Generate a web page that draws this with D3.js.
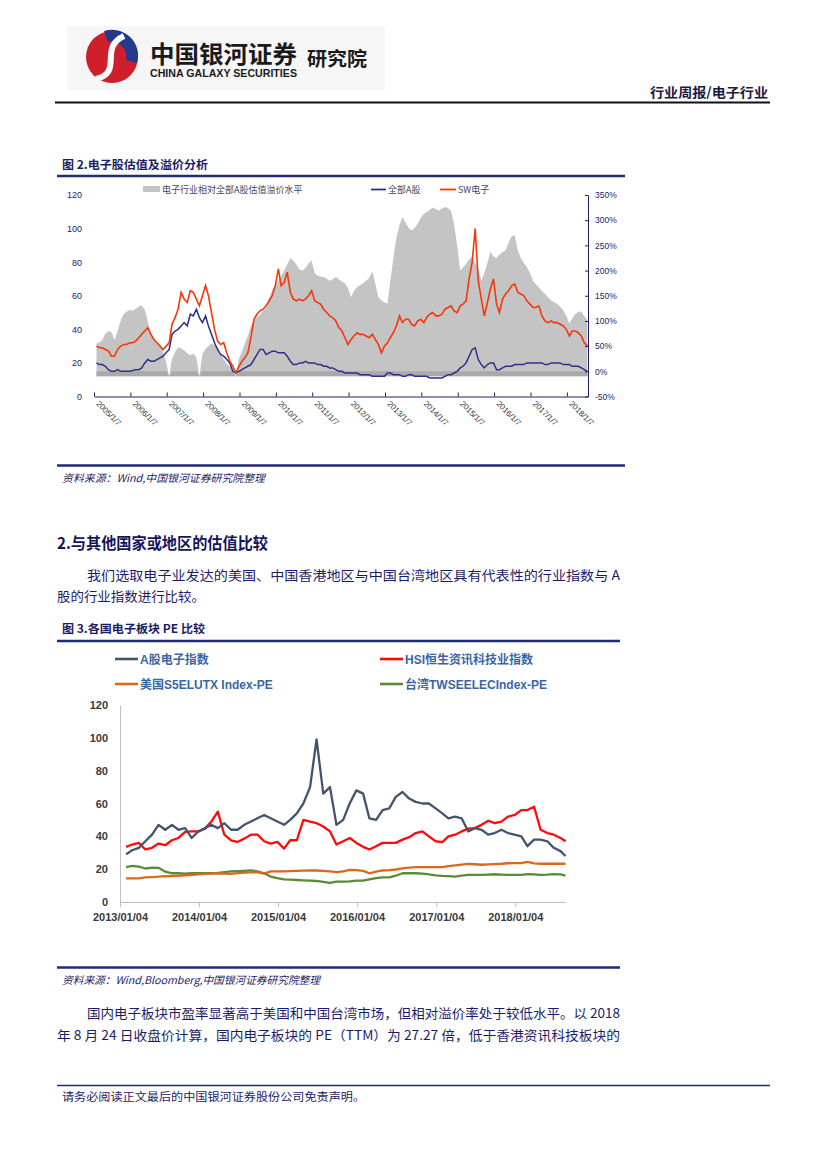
<!DOCTYPE html>
<html><head><meta charset="utf-8">
<script src="https://cdn.jsdelivr.net/npm/d3@7/dist/d3.min.js"></script>
<style>body{margin:0;background:#fff}svg{display:block}</style>
</head><body>
<svg id="page" width="827" height="1169"></svg>
<script>
// ---------- Figure 2 data (monthly, 2005/1 – 2018/8) ----------
const swValues = [
 30,29,29,28,27,24,24,28,30,31,31,32,
 32,33,35,37,39,41,37,34,32,30,28,30,
 32,43,47,52,62,58,56,63,62,58,54,60,
 66,60,50,40,33,31,32,26,21,18,14,18,
 21,23,26,35,46,49,51,52,54,57,60,66,
 76,66,68,74,62,58,57,58,57,58,60,63,
 57,56,55,52,50,48,47,45,41,39,35,31,
 34,36,38,37,37,36,35,37,34,31,26,30,
 32,35,38,42,48,44,46,46,43,42,45,46,
 44,47,49,50,48,48,49,52,53,54,51,50,
 54,55,57,70,80,100,69,58,48,56,64,70,
 55,50,58,61,63,66,67,62,61,60,57,55,
 53,53,54,48,45,44,45,44,44,43,42,40,
 36,39,39,38,36,32,30,28];
const allAValues = [
 20,19,19,18,16,15,15,16,15,15,15,15,
 15.5,16,16,17,20,22,21,21,22,23,24,26,
 28,37,39,40,42,44,42,49,48,52,47,44,
 48,42,37,32,28,25,24,22,20,15,14,15,
 16,17,18,19,22,25,28,28,25,26,27,27,
 26,26,26,24,21,19,19,20,20,21,20,20,
 20,19,19,18,18,17,17,16,15,15,14,14,
 14,14,14,13,13,13,13,12,12,12,12,12,
 14,14,13,13,13,12,12,13,13,12,12,12,
 12,12,11,11,11,11,11,12,13,13,14,15,
 17,18,20,24,28,29,22,19,17,19,20,20,
 16,16,17,18,18,18,19,19,19,19,20,20,
 20,20,20,20,19,19,20,20,20,20,19,19,
 19,18,18,18,17,16,15,14];
const premiumValues = [
 55,57,62,75,80,78,62,80,100,114,118,122,
 120,124,128,131,122,100,72,62,55,50,40,18,
 -10,25,38,48,46,42,36,32,35,28,-10,35,
 45,50,55,52,48,35,24,15,9,2,-10,25,
 40,55,70,90,100,108,112,121,125,145,161,172,
 180,190,200,212,225,220,212,202,200,205,214,220,
 195,190,188,187,184,180,183,187,183,178,175,165,
 147,160,167,171,175,180,185,198,175,147,141,137,
 134,180,225,265,290,306,295,285,280,285,293,305,
 313,316,320,325,322,319,323,326,324,318,293,250,
 200,206,213,222,227,215,205,180,195,215,238,228,
 225,232,237,240,255,268,270,240,225,215,207,195,
 180,173,167,160,154,147,141,137,134,128,121,110,
 95,105,114,118,118,110,101,95];
const c1Dates = d3.timeMonth.range(new Date(2005,0,7), new Date(2018,7,8));
const c1TickLabels = ["2005/1/7","2006/1/7","2007/1/7","2008/1/7","2009/1/7","2010/1/7","2011/1/7",
  "2012/1/7","2013/1/7","2014/1/7","2015/1/7","2016/1/7","2017/1/7","2018/1/7"];
const c1LeftTicks = [0,20,40,60,80,100,120];
const c1RightTicks = [-50,0,50,100,150,200,250,300,350];
const c1Legend = ["电子行业相对全部A股估值溢价水平","全部A股","SW电子"];

// ---------- Figure 3 data (monthly, 2013/01/04 – 2018/08/24) ----------
const aShareValues = [
 29,31.5,33,37,41,47,44,47,44,45,39,43,
 45,47,45,48,44,44,47,49,51,53,51,49,
 47,50,54,60,70,99,66,70,47,50,60,68,
 66,51,50,56,57,64,67,63,61,60,60,57,
 54,51,52,51,43,45,44,41,42,44,42,41,
 40,34,38,38,37,33,31,28,27];
const hsiValues = [
 33.6,35,36,32,33,35.6,34.6,37.6,39,42.7,43,43,
 44.7,48.8,55,41,37.6,36.6,38.6,41,41,37,35.6,36.6,
 32.5,37.6,37.6,50,49,48,46,43,35,37,39,36,
 33.6,32,34,36,36,36,38,39.5,42,43,40,37,
 36.5,40,41,43,44.7,45,47,49.5,48,49,52,53,
 56,56,58,44,42,41,39,37,36.6];
const usValues = [
 14.4,14.4,14.4,15,15.2,15.4,15.7,15.8,16,16.3,16.6,16.8,
 17.1,17.3,17.5,17.3,17.1,17.6,17.9,18.1,18,17.3,18.6,18.6,
 18.6,18.8,19,19.1,19.2,19.2,19,18.6,18.2,18.6,19.6,19.4,
 19,17.5,18.5,19.2,19.4,19.8,20.5,21,21.2,21.2,21.2,21.2,
 21.2,21.8,22.3,22.8,23.2,23,22.7,22.9,23.1,23.3,23.6,23.7,
 23.7,24.5,23.5,23.3,23.4,23.3,23.3,23.3,23.4];
const twValues = [
 21.2,22,21.5,20.4,21,20.8,18.5,17.5,17.5,17.3,17.5,17.5,
 17.5,17.6,17.8,18.2,18.6,18.8,19,19.2,18.6,17.5,15.5,14.5,
 13.8,13.6,13.4,13.2,13,12.8,12.2,11.6,12.4,12.4,12.6,13,
 13,13.8,14.5,15,15,16,17.5,17.6,17.5,17.3,16.8,16.2,
 15.9,15.8,15.5,16,16.5,16.5,16.5,16.7,16.9,16.7,16.5,16.5,
 16.5,17,16.8,16.5,16.7,17,16.8,16,15.9];
const c2Dates = d3.timeMonth.range(new Date(2013,0,4), new Date(2018,7,5)).concat([new Date(2018,7,24)]);
const c2TickLabels = ["2013/01/04","2014/01/04","2015/01/04","2016/01/04","2017/01/04","2018/01/04"];
const c2YTicks = [0,20,40,60,80,100,120];
const c2Names = ["A股电子指数","HSI恒生资讯科技业指数","美国S5ELUTX Index-PE","台湾TWSEELECIndex-PE"];

// ---------- page ----------
const svg = d3.select("#page");
const CJK = "'Noto Sans CJK SC','Noto Sans',sans-serif";
const LAT = "'Liberation Sans','Noto Sans CJK SC',sans-serif";
const NAVY = "#1c1c66";

function text(x, y, s, o = {}) {
  const t = svg.append("text").attr("x", x).attr("y", y).text(s)
    .attr("font-family", o.family || CJK).attr("font-size", o.size || 12)
    .attr("fill", o.fill || NAVY).attr("font-weight", o.weight || 400);
  if (o.anchor) t.attr("text-anchor", o.anchor);
  if (o.len) t.attr("textLength", o.len).attr("lengthAdjust", "spacingAndGlyphs");
  if (o.italic) t.attr("font-style", "italic");
  return t;
}
function hline(x1, x2, y, w, c) {
  svg.append("line").attr("x1", x1).attr("x2", x2).attr("y1", y).attr("y2", y)
    .attr("stroke", c).attr("stroke-width", w);
}

// header
svg.append("rect").attr("x", 67).attr("y", 26).attr("width", 318).attr("height", 64).attr("fill", "#f6f6f6");
svg.append("circle").attr("cx", 112).attr("cy", 57).attr("r", 26).attr("fill", "#cf1f2b");
svg.append("path").attr("d", "M104 31 A26 26 0 0 1 137 63 L126 60 A15 15 0 0 0 108 42 Z").attr("fill", "#233a8c");
svg.append("path").attr("d", "M96 79 C 124 72, 98 48, 124 36").attr("stroke", "#fff").attr("stroke-width", 6).attr("fill", "none");
text(150, 63, "中国银河证券", {size: 24, weight: 700, fill: "#1a1a1a", len: 147});
text(150, 77, "CHINA GALAXY SECURITIES", {family: LAT, size: 10, weight: 700, fill: "#1a1a1a", len: 147});
text(307, 66, "研究院", {size: 19, weight: 700, fill: "#1a1a1a", len: 60});
text(768, 97, "行业周报/电子行业", {size: 13, weight: 700, fill: "#1a1a40", anchor: "end", len: 118});
hline(55, 770, 102.5, 2, "#111");

// ---------- Figure 2 ----------
text(62, 169, "图 2.电子股估值及溢价分析", {size: 11.5, weight: 700, len: 146});
hline(57, 625, 176, 2.5, "#1f2a78");

const x1 = d3.scaleTime().domain([new Date(2005,0,7), new Date(2018,7,7)]).range([94, 588]);
const yL = d3.scaleLinear().domain([0, 120]).range([396.5, 195]);
const yR = d3.scaleLinear().domain([-50, 350]).range([396.5, 195]);
const d1 = c1Dates.map((d, i) => ({date: d, sw: swValues[i], a: allAValues[i], p: premiumValues[i]}));

const g1 = svg.append("g");
g1.append("path").datum(d1).attr("fill", "#c4c4c4")
  .attr("d", d3.area().x(d => x1(d.date)).y0(yR(-10)).y1(d => yR(d.p)));
g1.append("path").datum(d1).attr("fill", "#a9a9a9")
  .attr("d", d3.area().x(d => x1(d.date)).y0(yR(-10)).y1(d => yR(Math.min(d.p, 0))));
g1.append("path").datum(d1).attr("fill", "none").attr("stroke", "#2e2e8c").attr("stroke-width", 1.5)
  .attr("d", d3.line().x(d => x1(d.date)).y(d => yL(d.a)));
g1.append("path").datum(d1).attr("fill", "none").attr("stroke", "#f5380c").attr("stroke-width", 1.6)
  .attr("d", d3.line().x(d => x1(d.date)).y(d => yL(d.sw)));

const tickDates1 = c1TickLabels.map(s => { const p = s.split("/"); return new Date(+p[0], +p[1]-1, +p[2]); });
const ax1 = svg.append("g").attr("transform", "translate(0,396.5)")
  .call(d3.axisBottom(x1).tickValues(tickDates1).tickFormat((d, i) => c1TickLabels[i]).tickSizeInner(-4).tickSizeOuter(0));
ax1.select(".domain").attr("stroke", "#1f1f70");
ax1.selectAll(".tick line").attr("stroke", "#1f1f70");
ax1.selectAll(".tick text").attr("font-family", LAT).attr("font-size", 8).attr("fill", "#333")
  .attr("text-anchor", "start").attr("transform", "translate(3,6) rotate(45)").attr("dy", "0.3em").attr("y", 0);

const axL = svg.append("g").attr("transform", "translate(94,0)")
  .call(d3.axisLeft(yL).tickValues(c1LeftTicks).tickSize(0).tickPadding(12));
axL.select(".domain").remove();
axL.selectAll("text").attr("font-family", LAT).attr("font-size", 9).attr("fill", NAVY);

const axR = svg.append("g").attr("transform", "translate(588,0)")
  .call(d3.axisRight(yR).tickValues(c1RightTicks).tickFormat(d => d + "%").tickSizeInner(-3).tickSizeOuter(0).tickPadding(7));
axR.select(".domain").attr("stroke", "#1f1f70");
axR.selectAll(".tick line").attr("stroke", "#1f1f70");
axR.selectAll("text").attr("font-family", LAT).attr("font-size", 8.5).attr("fill", NAVY);

// legend fig 2
svg.append("rect").attr("x", 143).attr("y", 186).attr("width", 17).attr("height", 6).attr("fill", "#c4c4c4");
text(162, 193, c1Legend[0], {size: 9, fill: "#444466"});
hline(371, 386, 189.5, 1.8, "#2e2e8c");
text(388, 193, c1Legend[1], {size: 9, fill: "#444466"});
hline(440, 456, 189.5, 1.8, "#f5380c");
text(458, 193, c1Legend[2], {size: 9, fill: "#444466"});

hline(57, 625, 465.5, 2.5, "#1f2a78");
text(62, 482, "资料来源：Wind,中国银河证券研究院整理", {size: 10.5, italic: true, len: 203});

// ---------- section text ----------
text(57, 549, "2.与其他国家或地区的估值比较", {size: 16, weight: 700, fill: "#15155e", len: 211});
text(87, 580, "我们选取电子业发达的美国、中国香港地区与中国台湾地区具有代表性的行业指数与 A", {size: 13, len: 533});
text(57, 601, "股的行业指数进行比较。", {size: 13, len: 148});

// ---------- Figure 3 ----------
text(62, 633, "图 3.各国电子板块 PE 比较", {size: 11.5, weight: 700, len: 143});
hline(57, 620, 641, 2.5, "#1f2a78");

const x2 = d3.scaleTime().domain([new Date(2013,0,4), new Date(2018,7,24)]).range([120, 565.5]);
const y2 = d3.scaleLinear().domain([0, 120]).range([902, 705]);
const series2 = [
  {name: c2Names[0], values: aShareValues, color: "#44546a"},
  {name: c2Names[1], values: hsiValues, color: "#ff0a0a"},
  {name: c2Names[2], values: usValues, color: "#d8691e"},
  {name: c2Names[3], values: twValues, color: "#5a8a35"}
];

const axY2 = svg.append("g").attr("transform", "translate(120,0)")
  .call(d3.axisLeft(y2).tickValues(c2YTicks).tickSize(0).tickPadding(12));
axY2.select(".domain").attr("stroke", "#bfbfbf");
axY2.selectAll("text").attr("font-family", LAT).attr("font-size", 11).attr("font-weight", 700).attr("fill", "#3a3a3a");

const tickDates2 = c2TickLabels.map(s => { const p = s.split("/"); return new Date(+p[0], +p[1]-1, +p[2]); });
const axX2 = svg.append("g").attr("transform", "translate(0,902)")
  .call(d3.axisBottom(x2).tickValues(tickDates2).tickFormat((d, i) => c2TickLabels[i]).tickSizeInner(5).tickSizeOuter(0).tickPadding(6));
axX2.select(".domain").attr("stroke", "#bfbfbf");
axX2.selectAll(".tick line").attr("stroke", "#bfbfbf");
axX2.selectAll("text").attr("font-family", LAT).attr("font-size", 11).attr("font-weight", 700).attr("fill", "#3a3a3a");

const line2 = d3.line().x((v, i) => x2(c2Dates[i])).y(v => y2(v));
[series2[3], series2[2], series2[1], series2[0]].forEach(s => {
  svg.append("path").datum(s.values).attr("fill", "none").attr("stroke", s.color)
    .attr("stroke-width", 2.3).attr("stroke-linejoin", "round").attr("d", line2);
});

// legend fig 3
const legPos = [[115, 659], [380, 659], [115, 684], [380, 684]];
series2.forEach((s, i) => {
  const [lx, ly] = legPos[i];
  hline(lx, lx + 23, ly, 2.6, s.color);
  text(lx + 25, ly + 4.5, s.name, {family: LAT, size: 12, weight: 700, fill: "#3b66a6"});
});

hline(57, 620, 967.5, 2.5, "#1f2a78");
text(62, 984, "资料来源：Wind,Bloomberg,中国银河证券研究院整理", {size: 10.5, italic: true, len: 258});

text(87, 1018, "国内电子板块市盈率显著高于美国和中国台湾市场，但相对溢价率处于较低水平。以 2018", {size: 13, len: 533});
text(57, 1040, "年 8 月 24 日收盘价计算，国内电子板块的 PE（TTM）为 27.27 倍，低于香港资讯科技板块的", {size: 13, len: 563});

hline(57, 770, 1085.5, 1.5, "#1f2a78");
text(62, 1101, "请务必阅读正文最后的中国银河证券股份公司免责声明。", {size: 11, len: 303});
</script>
</body></html>
